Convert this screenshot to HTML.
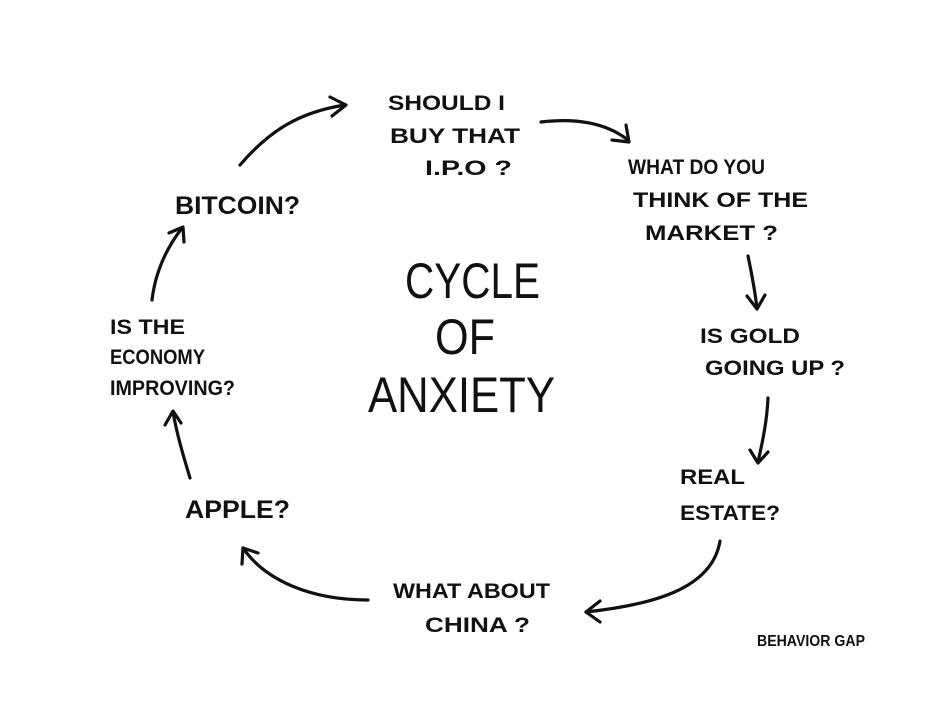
<!DOCTYPE html>
<html><head><meta charset="utf-8"><style>
html,body{margin:0;padding:0;background:#fff;}
svg{display:block;}
text{font-family:"Liberation Sans",sans-serif;fill:#111;}
.s{font-size:21px;font-weight:bold;}
.b{font-size:50px;}
path{fill:none;stroke:#111;stroke-width:3.2;stroke-linecap:round;stroke-linejoin:round;}
</style></head><body>
<svg width="936" height="702" viewBox="0 0 936 702">
<rect width="936" height="702" fill="#fff"/>
<text class="s" x="388" y="110" textLength="117" lengthAdjust="spacingAndGlyphs">SHOULD I</text>
<text class="s" x="390" y="143" textLength="130" lengthAdjust="spacingAndGlyphs">BUY THAT</text>
<text class="s" x="425" y="175" textLength="87" lengthAdjust="spacingAndGlyphs">I.P.O ?</text>

<text class="s" x="628" y="174" textLength="137" lengthAdjust="spacingAndGlyphs">WHAT DO YOU</text>
<text class="s" x="633" y="207" textLength="175" lengthAdjust="spacingAndGlyphs">THINK OF THE</text>
<text class="s" x="645" y="240" textLength="133" lengthAdjust="spacingAndGlyphs">MARKET ?</text>

<text class="s" x="700" y="343" textLength="100" lengthAdjust="spacingAndGlyphs">IS GOLD</text>
<text class="s" x="705" y="375" textLength="140" lengthAdjust="spacingAndGlyphs">GOING UP ?</text>

<text class="s" x="680" y="484" textLength="65" lengthAdjust="spacingAndGlyphs">REAL</text>
<text class="s" x="680" y="520" textLength="100" lengthAdjust="spacingAndGlyphs">ESTATE?</text>

<text class="s" x="393" y="598" textLength="157" lengthAdjust="spacingAndGlyphs">WHAT ABOUT</text>
<text class="s" x="425" y="632" textLength="105" lengthAdjust="spacingAndGlyphs">CHINA ?</text>

<text class="s" x="185" y="518" style="font-size:25px" textLength="105" lengthAdjust="spacingAndGlyphs">APPLE?</text>

<text class="s" x="110" y="334" textLength="75" lengthAdjust="spacingAndGlyphs">IS THE</text>
<text class="s" x="110" y="364" textLength="95" lengthAdjust="spacingAndGlyphs">ECONOMY</text>
<text class="s" x="110" y="395" textLength="125" lengthAdjust="spacingAndGlyphs">IMPROVING?</text>

<text class="s" x="175" y="214" style="font-size:25px" textLength="125" lengthAdjust="spacingAndGlyphs">BITCOIN?</text>

<text class="b" x="405" y="298" textLength="135" lengthAdjust="spacingAndGlyphs">CYCLE</text>
<text class="b" x="435" y="354" textLength="60" lengthAdjust="spacingAndGlyphs">OF</text>
<text class="b" x="368" y="412" textLength="187" lengthAdjust="spacingAndGlyphs">ANXIETY</text>

<text x="757" y="646" style="font-size:16px;font-weight:bold" textLength="108" lengthAdjust="spacingAndGlyphs">BEHAVIOR GAP</text>

<path d="M240 165 C270 130 300 112 345 105"/>
<path d="M330 97 L346 105 L332 116"/>

<path d="M541 122 C575 118 605 122 628 140"/>
<path d="M612 140 L629 142 L626 125"/>

<path d="M748 256 C752 275 755 292 757 308"/>
<path d="M747 296 L757 309 L765 295"/>

<path d="M768 398 C767 420 763 440 758 462"/>
<path d="M750 450 L758 463 L768 452"/>

<path d="M720 541 C712 590 650 605 586 612"/>
<path d="M600 601 L586 612 L600 622"/>

<path d="M368 600 C310 600 265 580 243 548"/>
<path d="M242 564 L243 548 L258 553"/>

<path d="M190 478 C184 458 177 435 173 412"/>
<path d="M165 425 L173 411 L181 423"/>

<path d="M152 300 C155 275 165 250 182 228"/>
<path d="M169 233 L183 227 L184 242"/>
</svg>
</body></html>
